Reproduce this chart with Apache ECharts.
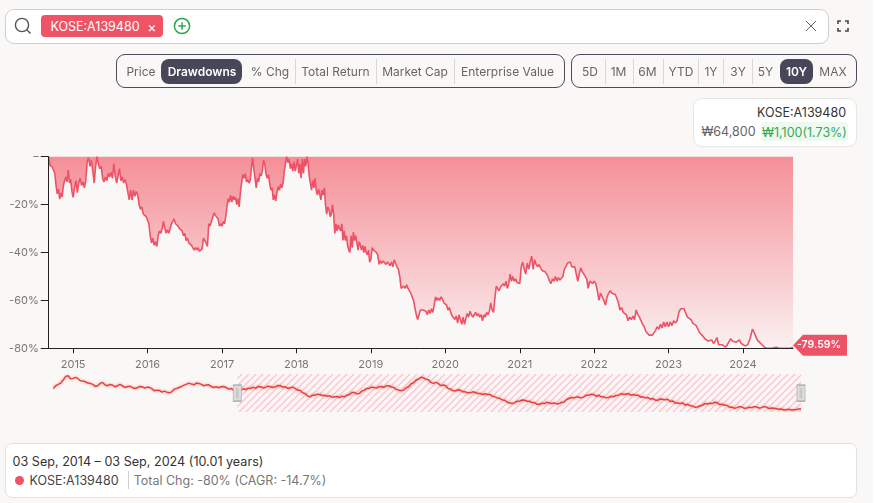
<!DOCTYPE html>
<html>
<head>
<meta charset="utf-8">
<script src="https://cdn.jsdelivr.net/npm/echarts@6/dist/echarts.min.js"></script>
<style>
html, body { margin: 0; padding: 0; background: #fff; }
#page { position: relative; width: 873px; height: 503px; background: #faf8f6; overflow: hidden; font-family: Inter, sans-serif; }
#chart { position: absolute; left: 0; top: 0; width: 876px; height: 503px; }
.box { position: absolute; box-sizing: border-box; }
.lbl { position: absolute; white-space: nowrap; transform: translate(-50%, -50%); }
svg { position: absolute; }
</style>
</head>
<body>
<div id="page">
    <div id="chart"></div>
    <div id="ui"></div>
    <svg style="left:14px;top:17px" width="18" height="18" viewBox="0 0 18 18" fill="none" stroke="#555" stroke-width="1.4"><circle cx="8" cy="8" r="6.6"/><path d="M13 13 L16.5 16.5"/></svg>
    <svg style="left:173px;top:17px" width="18" height="18" viewBox="0 0 18 18" fill="none" stroke="#2fa550" stroke-width="1.5"><circle cx="9" cy="9" r="7.6"/><path d="M9 5.2 V12.8 M5.2 9 H12.8"/></svg>
    <svg style="left:805px;top:20px" width="12" height="12" viewBox="0 0 12 12" fill="none" stroke="#666" stroke-width="1"><path d="M1 1 L11 11 M11 1 L1 11"/></svg>
    <svg style="left:837px;top:20px" width="12" height="12" viewBox="0 0 12 12" fill="none" stroke="#444" stroke-width="1.6"><path d="M1 4 V1 H4 M8 1 H11 V4 M11 8 V11 H8 M4 11 H1 V8"/></svg>
</div>
<script>
// drawdown (%), one list per calendar year
var dd2014 = [0, -3.6, -3.2, -4.4, -3.9, -7, -12, -15.5, -13.5, -17.7, -15.2, -16.8, -12, -10, -8.5, -10.5, -5.5, -11, -9.5, -14.5];
var dd2015 = [-17, -13, -10, -15, -11, -9, -12, -10.5, -13, -10, -2, -0.5, -4, -1.5, -6, -11, -4, 0, -3, -5, -4, -9, -10.5, -8.5, -10, -7, -8.5, -6.5, -9, -3, -8, -11, -8, -5, -10, -8.5, -11, -9.5, -11.5, -15, -18, -14, -18, -14, -16.5, -14.5, -16, -20, -22, -21, -24, -23.5, -25];
var dd2016 = [-25, -28, -33, -36, -34, -37, -35.5, -37.5, -33, -31, -32, -30, -27, -30, -32, -30.5, -32, -30, -28, -27, -26, -28, -27.5, -29, -30, -29.5, -31, -33, -32, -35, -34, -36, -35.5, -37, -36.5, -39, -38, -39, -38, -39.5, -39, -38.5, -34, -33.5, -36, -37.5, -28, -29, -27, -27.5, -23.5, -24.5, -24, -26, -29, -28];
var dd2017 = [-29, -27, -28, -25, -21, -17.5, -19, -16, -19, -16.5, -18, -17, -20, -17.5, -21, -15, -11, -7.5, -9, -7, -10.5, -9.5, -11, -10, -5, -0.5, -5, -9, -13, -9, -10.5, -7, -8, -6, -1.5, -3, -7, -9, -7.5, -11, -14, -13, -18, -16, -18.5, -15, -12.5, -14, -11.5, -13, -11, -6, -3, 0, -2.5, -1, -5, -3, -6, -2, -6];
var dd2018 = [-6, -1, -7, -3, -9, -1, -7, -1, -4, 0, -3, -8, -11, -14, -10, -13, -9, -14, -16, -13.5, -15.5, -18, -14, -16, -13, -20, -24, -21, -22, -25, -24, -20, -24, -32, -28, -31, -28.5, -30, -31, -28, -35, -31, -35, -33, -37, -39, -40, -33, -38, -31.5, -35, -33, -36, -39, -35.5, -37, -39, -37, -40, -37.5, -40, -41, -39, -44];
var dd2019 = [-43, -38, -39, -38.5, -40, -41, -45, -43.5, -44.5, -43.5, -44, -45, -44, -44.5, -45.5, -44, -46, -43, -44.5, -46, -47, -50, -55, -55.5, -54, -55, -53.5, -55, -55.5, -57, -57.5, -60, -63, -66, -68, -66, -64, -64.5, -64, -63.5, -64.5, -66, -64, -65.5, -63.5, -65, -62, -58.5, -60, -59, -60, -58.5, -59.5, -61];
var dd2020 = [-61, -62, -64, -63, -65, -66.5, -66, -68, -66.5, -69.5, -66, -68, -70, -67, -70, -67.5, -65.5, -67, -64.5, -66, -67, -66, -65, -66.5, -65.5, -67, -66, -68.5, -66, -67, -65, -66, -64.5, -61, -64, -65, -59, -54, -53.5, -56, -54.5, -55, -53, -54, -52, -55, -53, -49, -52, -50, -52, -51, -52.5, -53];
var dd2021 = [-53, -46, -44, -47, -49, -44.5, -47, -44, -41.5, -47, -43, -45, -46, -45, -46.5, -47.5, -47, -48, -47.5, -50, -52, -53, -51, -52, -50, -52, -50.5, -51.5, -52, -50, -47, -46, -44.5, -45, -44, -46, -45.5, -46, -49, -52, -49, -46.5, -48, -47.5, -50, -51, -55, -52, -52.5, -53];
var dd2022 = [-52, -53, -56, -60, -57, -57.5, -60, -62, -58.5, -57, -56, -57, -56.5, -57.5, -59, -61, -64, -63, -65, -64.5, -66, -68.5, -67, -68, -66.5, -68, -64, -66, -67, -68.5, -70, -71, -73, -73.5, -74.5, -74, -74.5, -74, -72.5, -71, -72, -70, -71.5, -69, -71, -69];
var dd2023 = [-71, -69, -70.5, -68.5, -69.5, -68.5, -65, -63.5, -64, -63.5, -65.5, -67, -66.5, -68, -69.5, -69, -70.5, -70.5, -73.5, -74, -75, -76, -75.5, -77, -77.5, -76.5, -78, -77, -75.5, -78.5, -78, -78.5, -78, -79.5, -78.5, -78, -76, -77, -76.5, -77.5, -78, -76.5, -78];
var dd2024 = [-78, -79, -78.5, -76, -72, -74, -76.5, -77.5, -78.5, -79.5, -80, -80, -80, -79.8, -79.6, -80, -80, -80, -80, -80, -80, -79.59];

// navigator strip: price level in strip units, evenly spaced over the ten years
var navLevel = [70, 78, 82, 86, 95, 106, 108, 99, 100, 103, 99, 93, 92, 90, 86, 85, 82, 76, 78, 85, 88, 80, 78, 82, 80, 75, 78, 82, 78, 73, 75, 77, 73, 70, 72, 76, 75, 71, 74, 73, 69, 63, 65, 64, 59, 62, 59, 57, 60, 68, 70, 73, 76, 80, 83, 86, 83, 81, 86, 85, 82, 78, 80, 81, 76, 73, 75, 72, 75, 76, 73, 68, 70, 65, 66, 63, 65, 69, 67, 71, 70, 74, 70, 76, 75, 72, 73, 77, 75, 73, 75, 79, 78, 74, 75, 70, 72, 74, 70, 65, 65, 57, 55, 48, 45, 50, 50, 53, 52, 49, 50, 47, 48, 44, 45, 46, 43, 47, 45, 50, 52, 58, 58, 54, 55, 62, 65, 70, 70, 74, 73, 71, 75, 76, 73, 78, 78, 74, 73, 67, 65, 63, 65, 72, 75, 84, 87, 95, 98, 103, 102, 97, 96,
    88, 85, 88, 85, 78, 80, 78, 70, 68, 63, 63, 66, 65, 60, 60, 57, 57, 60, 58, 55, 55, 52, 54, 52, 52, 47, 45, 42, 40, 36, 35, 29, 27, 25, 28, 32, 32, 36, 35, 32, 32, 28, 28, 23, 23, 26, 25, 29, 27, 25, 27, 24, 25, 29, 30, 37, 40, 43, 42, 45, 44, 42, 45, 50, 50, 53, 52, 47, 50, 45, 45, 42, 43, 47, 45, 49, 50, 54, 53, 53, 55, 50, 52, 50, 50, 44, 45, 42, 43, 38, 40, 35, 35, 39, 38, 36, 38, 31, 33, 27, 27, 25, 27, 21, 23, 19, 18, 14, 15, 18, 20, 25, 24, 26, 25, 29, 28, 22, 23, 20, 20, 14, 15, 11, 13, 16, 15, 11, 12, 14, 13, 16, 15, 12, 13, 16, 15, 10, 12, 11, 10, 8, 9, 6, 7, 8, 6, 7, 7, 9, 10];

var yearBlocks = [dd2014, dd2015, dd2016, dd2017, dd2018, dd2019, dd2020, dd2021, dd2022, dd2023, dd2024];
var yearTicks = [2015, 2016, 2017, 2018, 2019, 2020, 2021, 2022, 2023, 2024];
var startDate = new Date(2014, 8, 3).getTime();
var endDate = new Date(2024, 8, 3).getTime();
var selStart = new Date(2017, 1, 18).getTime();
var tickValues = yearTicks.map(function(y) { return new Date(y, 0, 1).getTime(); });

var red = '#ec5366';

// 每年的点在该年内均匀排开
var ddData = [];
yearBlocks.forEach(function(block, b) {
    var from = b == 0 ? startDate : new Date(2014 + b, 0, 1).getTime();
    var last = b == yearBlocks.length - 1;
    var to = last ? endDate : new Date(2015 + b, 0, 1).getTime();
    block.forEach(function(v, i) {
        ddData.push([from + (to - from) * i / (last ? block.length - 1 : block.length), v]);
    });
});
var navData = navLevel.map(function(v, i) {
    return [startDate + (endDate - startDate) * i / (navLevel.length - 1), v];
});

// hatch pattern for the selected range of the navigator
var hatch = document.createElement('canvas');
hatch.width = 7;
hatch.height = 7;
var hc = hatch.getContext('2d');
hc.fillStyle = '#fdf5f5';
hc.fillRect(0, 0, 7, 7);
hc.strokeStyle = '#f5c0ca';
hc.lineWidth = 1.2;
hc.beginPath();
hc.moveTo(-1, 1); hc.lineTo(1, -1);
hc.moveTo(0, 7); hc.lineTo(7, 0);
hc.moveTo(6, 8); hc.lineTo(8, 6);
hc.stroke();

// search bar, buttons and cards around the chart
var boxes = [
    [4.5, 8.5, 824, 35, '#fff', '#cfcfca', 9],
    [41, 15, 122, 22, '#ef5366', 'none', 4],
    [115.5, 54, 449, 33.5, 'transparent', '#4a4a58', 9],
    [161, 59, 81, 25, '#474759', 'none', 8],
    [571, 54, 286, 33.5, 'transparent', '#4a4a58', 9],
    [780, 59, 33, 25, '#474759', 'none', 8],
    [692.5, 98, 164.5, 49, '#fff', '#e6e6e2', 9],
    [761, 122, 87, 19, '#eefaf0', 'none', 3],
    [4.5, 443, 852.5, 55, '#fff', '#e0e0dc', 7],
    [14.5, 475.5, 9, 9, '#ef5366', 'none', 5],
    [295, 59, 1, 25, '#d8d8d4', 'none', 0],
    [375.5, 59, 1, 25, '#d8d8d4', 'none', 0],
    [454, 59, 1, 25, '#d8d8d4', 'none', 0],
    [604.5, 59, 1, 25, '#d8d8d4', 'none', 0],
    [632.5, 59, 1, 25, '#d8d8d4', 'none', 0],
    [662.5, 59, 1, 25, '#d8d8d4', 'none', 0],
    [698, 59, 1, 25, '#d8d8d4', 'none', 0],
    [723, 59, 1, 25, '#d8d8d4', 'none', 0],
    [751.5, 59, 1, 25, '#d8d8d4', 'none', 0],
    [127.5, 471, 1, 18, '#cfcfca', 'none', 0]
];
var labels = [
    ['KOSE:A139480', 95, 25.5, 12.5, '#fff', 400],
    ['×', 152, 25.5, 14, '#fff', 400],
    ['Price', 141, 71, 12, '#666', 400],
    ['Drawdowns', 202, 71, 12, '#fff', 600],
    ['% Chg', 270, 71, 12, '#666', 400],
    ['Total Return', 335.5, 71, 12, '#666', 400],
    ['Market Cap', 415, 71, 12, '#666', 400],
    ['Enterprise Value', 507.5, 71, 12, '#666', 400],
    ['5D', 590, 71, 12, '#666', 400],
    ['1M', 618.5, 71, 12, '#666', 400],
    ['6M', 647.5, 71, 12, '#666', 400],
    ['YTD', 681, 71, 12, '#666', 400],
    ['1Y', 711, 71, 12, '#666', 400],
    ['3Y', 738, 71, 12, '#666', 400],
    ['5Y', 765.5, 71, 12, '#666', 400],
    ['10Y', 796.5, 71, 12, '#fff', 600],
    ['MAX', 833, 71, 12, '#666', 400],
    ['KOSE:A139480', 801.5, 112, 12.5, '#333', 400],
    ['₩64,800', 728.5, 131, 12.5, '#666', 400],
    ['₩1,100(1.73%)', 804.5, 131.5, 12.5, '#3aa757', 400],
    ['03 Sep, 2014 – 03 Sep, 2024 (10.01 years)', 138, 461, 12.6, '#333', 400],
    ['KOSE:A139480', 74, 480, 12.5, '#444', 400],
    ['Total Chg: -80% (CAGR: -14.7%)', 230, 480, 12.5, '#777', 400]
];
var ui = document.getElementById('ui');
boxes.forEach(function(b) {
    var el = document.createElement('div');
    el.className = 'box';
    el.style.cssText = 'left:' + b[0] + 'px;top:' + b[1] + 'px;width:' + b[2] + 'px;height:' + b[3] + 'px;background:' + b[4] +
        ';border:' + (b[5] == 'none' ? '0' : '1px solid ' + b[5]) + ';border-radius:' + b[6] + 'px';
    ui.appendChild(el);
});
labels.forEach(function(l) {
    var el = document.createElement('div');
    el.className = 'lbl';
    el.textContent = l[0];
    el.style.cssText = 'left:' + l[1] + 'px;top:' + l[2] + 'px;font-size:' + l[3] + 'px;color:' + l[4] + ';font-weight:' + l[5];
    ui.appendChild(el);
});

var myChart = echarts.init(document.getElementById('chart'), null, { renderer: 'canvas' });

var handle = { color: '#dedede', borderColor: '#b5b5b2', borderWidth: 1.2 };
var handleBar = { color: '#c9c9c6', borderWidth: 0 };

var options = {
    animation: false,
    backgroundColor: 'transparent',
    textStyle: { fontFamily: 'Inter' },
    grid: [
        { left: 48.7, top: 156.7, width: 744.3, height: 191.6 },
        { left: 53.3, top: 374, width: 747.7, height: 38 }
    ],
    xAxis: [{
        type: 'value', // timestamps; custom yearly ticks
        gridIndex: 0,
        min: startDate,
        max: endDate,
        z: 5,
        splitLine: { show: false },
        axisLine: { onZero: false, lineStyle: { color: '#222', width: 1 } },
        axisTick: { length: 5, lineStyle: { color: '#222' }, customValues: tickValues },
        axisLabel: {
            color: '#777',
            fontSize: 11,
            margin: 10.5,
            customValues: tickValues,
            formatter: function(v) { return new Date(v).getFullYear() + ''; }
        }
    }, {
        type: 'value',
        gridIndex: 1,
        min: startDate,
        max: endDate,
        show: false
    }],
    yAxis: [{
        type: 'value',
        gridIndex: 0,
        min: -80,
        max: 0,
        interval: 20,
        z: 5,
        splitLine: { show: false },
        axisLine: { show: true, onZero: false, lineStyle: { color: '#222', width: 1 } },
        axisTick: { show: true, length: 8, lineStyle: { color: '#222' } },
        axisLabel: {
            color: '#777',
            fontSize: 11,
            margin: 10,
            formatter: function(v) { return v == 0 ? '–' : v + '%'; }
        }
    }, {
        type: 'value',
        gridIndex: 1,
        min: 0,
        max: 113,
        show: false
    }],
    series: [{
        name: 'KOSE:A139480',
        type: 'line',
        xAxisIndex: 0,
        yAxisIndex: 0,
        data: ddData,
        showSymbol: false,
        lineStyle: { color: red, width: 1.6 },
        areaStyle: {
            origin: 'end',
            opacity: 1,
            color: new echarts.graphic.LinearGradient(0, 0, 0, 1, [
                { offset: 0, color: '#f58f98' },
                { offset: 1, color: '#fbf0f0' }
            ])
        },
        markPoint: {
            silent: true,
            symbol: 'path://M0 10.5 L10 0 L54 0 L54 21 L10 21 Z',
            symbolSize: [54, 21],
            symbolOffset: [27, -2],
            itemStyle: { color: red },
            label: { show: true, color: '#fff', fontSize: 10.5, fontWeight: 600, offset: [-1, 0], formatter: '-79.59%' },
            data: [{ coord: [endDate, -79.59] }]
        }
    }, {
        name: 'navigator',
        type: 'line',
        xAxisIndex: 1,
        yAxisIndex: 1,
        z: 3,
        data: navData,
        showSymbol: false,
        lineStyle: { color: '#e5433f', width: 1.5, shadowColor: 'rgba(240,90,90,0.55)', shadowBlur: 3 },
        markArea: {
            silent: true,
            itemStyle: { color: { image: hatch, repeat: 'repeat' }, opacity: 1 },
            data: [[{ xAxis: selStart }, { xAxis: endDate }]]
        },
        markPoint: {
            silent: true,
            symbol: 'rect',
            symbolSize: [8, 16],
            label: { show: false },
            data: [
                { coord: [selStart, 56], itemStyle: handle },
                { coord: [selStart, 56], symbolSize: [3, 11], itemStyle: handleBar },
                { coord: [endDate, 56], itemStyle: handle },
                { coord: [endDate, 56], symbolSize: [3, 11], itemStyle: handleBar }
            ]
        }
    }]
};
myChart.setOption(options);
</script>
</body>
</html>
